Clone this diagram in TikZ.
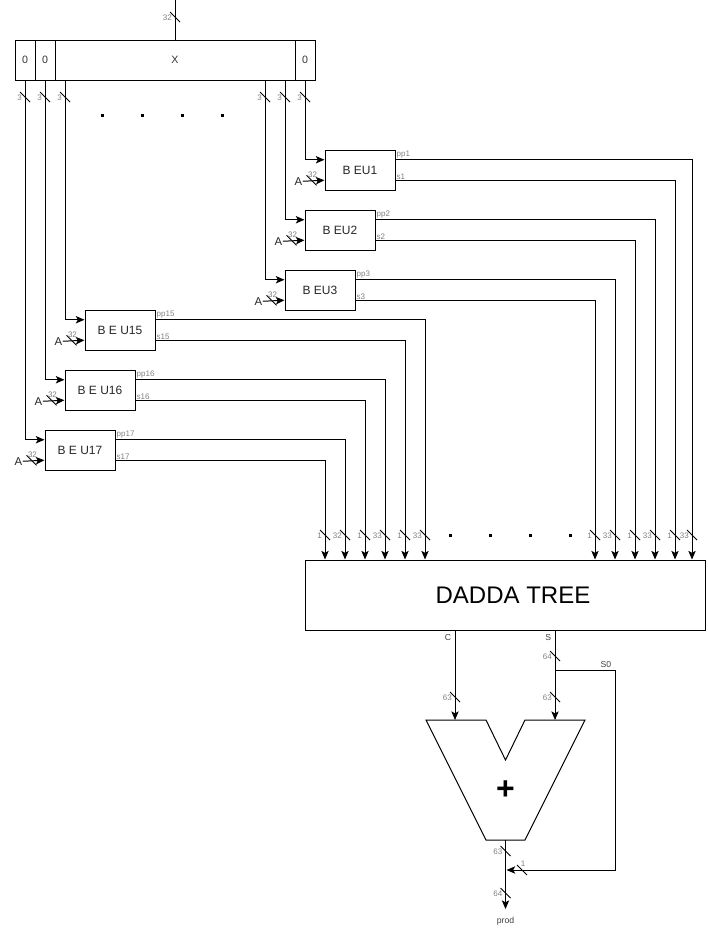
\documentclass[tikz,border=0pt]{standalone}
\usepackage{fontspec}
\setmainfont{Liberation Sans}
\usetikzlibrary{calc,arrows.meta}
\def\vbus(#1)#2{\draw ($(#1)+(-5,-5)$) -- ($(#1)+(5,5)$); \node[lbl, anchor=east] (#1-l) at ($(#1)+(-2,1)$) {#2};}
\def\hbus(#1)#2{\draw ($(#1)+(-5,-5)$) -- ($(#1)+(5,5)$); \node[lbl, anchor=south] (#1-l) at ($(#1)+(1,-2)$) {#2};}

\begin{document}
\begin{tikzpicture}[x=0.75pt, y=-0.75pt, line width=0.75pt,
		>={Stealth[length=6.5pt, width=5.5pt, inset=1.5pt]},
		lbl/.style={font=\fontsize{6}{6}\selectfont, text=black!50, inner sep=0.5pt},
		sig/.style={font=\fontsize{6.5}{7}\selectfont, text=black!75, inner sep=1pt},
		cell/.style={draw, minimum height=30pt, inner sep=0pt, font=\fontsize{8}{9}\selectfont, text=black!80},
		beu/.style={draw, minimum width=52.5pt, minimum height=30pt, inner sep=0pt, font=\fontsize{9}{10}\selectfont, text=black!85}]
			%%%%% START %%%%%
			\useasboundingbox (0,0) rectangle (707,939);
			
			\node[cell, minimum width=15pt] (r0a) at (25,60) {0};
			\node[cell, minimum width=15pt] (r0b) at (45,60) {0};
			\node[cell, minimum width=180pt] (rx) at (175,60) {X};
			\node[cell, minimum width=15pt] (r0c) at (305,60) {0};
			
			\coordinate (xin) at (175,0);
			\draw (xin) -- (rx.north);
			\coordinate (xs) at (175,17);
			\vbus(xs){32}
			
			\node[draw, minimum width=300pt, minimum height=52.5pt, font=\fontsize{18}{20}\selectfont] (dadda) at (505,595) {\hspace*{12pt}DADDA TREE};
			
			\foreach \n/\bx/\by/\bus/\pc/\sc/\w/\t in {1/360/170/305/692/675/33/B EU1, 2/340/230/285/655/635/33/B EU2, 3/320/290/265/615/595/33/B EU3, 15/120/330/65/425/405/33/B E U15, 16/100/390/45/385/365/33/B E U16, 17/80/450/25/345/325/32/B E U17} {
				\node[beu] (beu\n) at (\bx,\by) {\t};
				\coordinate (in\n) at ($(beu\n.north west)!0.25!(beu\n.south west)$);
				\coordinate (ain\n) at ($(beu\n.north west)!0.75!(beu\n.south west)$);
				\coordinate (pp\n) at ($(beu\n.north east)!0.25!(beu\n.south east)$);
				\coordinate (s\n) at ($(beu\n.north east)!0.75!(beu\n.south east)$);
				
				\coordinate (bus\n) at (\bus,0 |- rx.south);
				\draw[->] (bus\n) |- (in\n);
				\coordinate (bs\n) at (\bus,97);
				\vbus(bs\n){3}
				
				\node[font=\fontsize{8.5}{9}\selectfont, text=black!85, inner sep=0pt] (a\n) at ($(ain\n)+(-26,1)$) {A};
				\draw[->] (a\n.east) -- (ain\n);
				\coordinate (as\n) at ($(ain\n)+(-13,0)$);
				\hbus(as\n){32}
				
				\node[lbl, anchor=south west] (ppl\n) at (pp\n) {pp\n};
				\node[lbl, anchor=south west] (sl\n) at (s\n) {s\n};
				\draw[->] (pp\n) -| (\pc,0 |- dadda.north);
				\draw[->] (s\n) -| (\sc,0 |- dadda.north);
				\coordinate (ps\n) at (\pc,535);
				\vbus(ps\n){\w}
				\coordinate (ss\n) at (\sc,535);
				\vbus(ss\n){1}
			}
			
			\foreach \d in {102,142,182,222} \fill (\d-1.5,113.5) rectangle +(3,3);
			\foreach \d in {450,490,530,570} \fill (\d-1.5,533.5) rectangle +(3,3);
			
			% adder
			\draw (426,720) -- (486,720) -- (505.5,760) -- (525,720) -- (585,720) -- (525,840) -- (486,840) -- cycle;
			\node[font=\bfseries\fontsize{24}{24}\selectfont] (plus) at (505.5,790) {+};
			\coordinate (addc) at (455,720);
			\coordinate (adds) at (555,720);
			\coordinate (addo) at (505.5,840);
			
			\coordinate (cout) at (455,0 |- dadda.south);
			\coordinate (sout) at (555,0 |- dadda.south);
			\node[sig, anchor=north east] (clbl) at ($(cout)+(-2,2)$) {C};
			\node[sig, anchor=north east] (slbl) at ($(sout)+(-2,2)$) {S};
			\draw[->] (cout) -- (addc);
			\draw[->] (sout) -- (adds);
			\coordinate (cs) at (455,697);
			\vbus(cs){63}
			\coordinate (sa) at (555,656);
			\vbus(sa){64}
			\coordinate (sb) at (555,697);
			\vbus(sb){63}
			
			\coordinate (sbr) at (555,670);
			\coordinate (oj) at (506.5,870);
			\node[sig, anchor=south] (s0lbl) at (606,669) {S0};
			\draw[->] (sbr) -| (615,870) -- (oj);
			\coordinate (s0s) at (522,870);
			\hbus(s0s){1}
			
			\node[sig] (prod) at (505.5,921) {prod};
			\coordinate (pend) at (505.5,909);
			\draw[->] (addo) -- (pend);
			\coordinate (oa) at (505.5,851);
			\vbus(oa){63}
			\coordinate (ob) at (505.5,893);
			\vbus(ob){64}
			%%%%% END %%%%%
\end{tikzpicture}
\end{document}
